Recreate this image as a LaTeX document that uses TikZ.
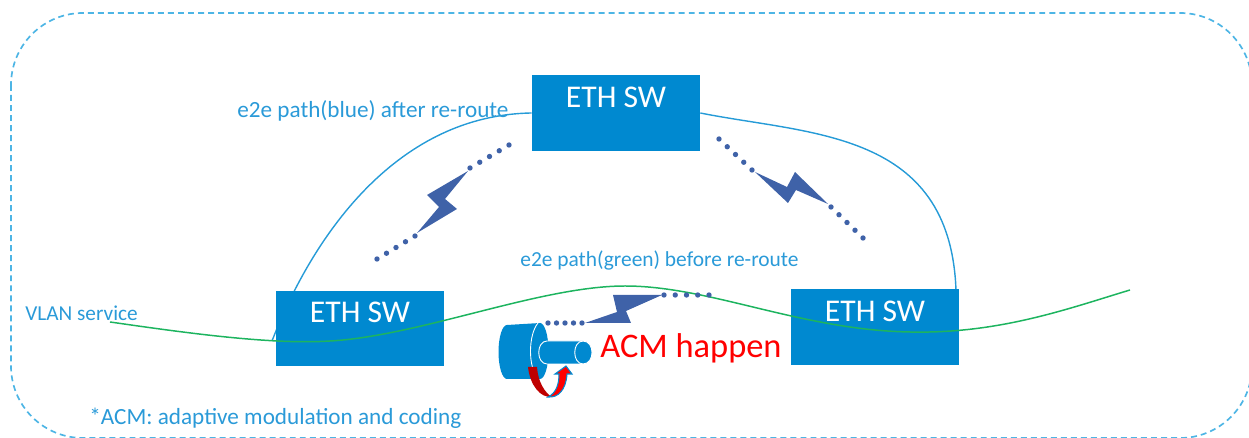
\documentclass[tikz,border=0pt]{standalone}
\usepackage{fontspec}
\setmainfont{Carlito}
\usetikzlibrary{calc,backgrounds}
\definecolor{swblue}{HTML}{0089D0}
\definecolor{txtblue}{HTML}{2A9AD8}
\definecolor{framecol}{HTML}{4DB5E5}
\definecolor{boltblue}{HTML}{3F62A8}
\definecolor{pathgreen}{HTML}{1DB45F}
\newcommand{\swlabel}{\raisebox{3.4pt}[0pt][0pt]{ETH SW}}
\tikzset{
	swbox/.style = {fill=swblue, minimum width=3.36cm, minimum height=1.52cm, text=white, inner sep=0pt, font=\fontsize{18}{20}\selectfont},
	lbl/.style = {text=txtblue, inner sep=0pt, anchor=west},
	bolt/.style = {fill=boltblue, draw=none},
	bluepath/.style = {swblue!85!white, line width=0.8pt},
}
\begin{document}
\begin{tikzpicture}[x=0.02cm, y=-0.02cm]
	\useasboundingbox (0, 0) rectangle (1249, 438);
	\begin{scope}
		\clip (0, 0) rectangle (1249, 438);
		\draw[framecol, line width=0.95pt, dash pattern=on 3.4pt off 2.3pt, rounded corners=1.44cm] (11, 13) rectangle (1252, 438);
	\end{scope}
	\node[swbox] (swtop) at (616, 113) {\swlabel};
	\node[swbox] (swleft) at (360, 328.5) {\swlabel};
	\node[swbox] (swright) at (875, 327) {\swlabel};
	% blue path behind the switches
	\coordinate (bluestart) at (272, 341);
	\coordinate (blueend) at (956, 290);
	\begin{scope}[on background layer]
		\draw[bluepath] (bluestart) .. controls (315, 230) and (400, 115) .. (swtop.west);
		\draw[bluepath] (swtop.east) .. controls (810, 135) and (950, 130) .. (blueend);
	\end{scope}
	% green path on top
	\coordinate (greenstart) at (110, 322);
	\coordinate (greenend) at (1130, 290);
	\draw[pathgreen, line width=0.85pt] (greenstart) .. controls (180, 332) and (270, 345) .. (330, 341) .. controls (420, 336) and (540, 286) .. (625, 286) .. controls (710, 286) and (800, 330) .. (910, 332) .. controls (1000, 334) and (1070, 308) .. (greenend);
	% labels
	\node[lbl, font=\fontsize{13.2}{15}\selectfont] (bluelbl) at (237, 111) {e2e path(blue) after re-route};
	\node[lbl, font=\fontsize{12.2}{14}\selectfont] (greenlbl) at (520, 261) {e2e path(green) before re-route};
	\node[lbl, font=\fontsize{12.1}{14}\selectfont] (vlanlbl) at (25, 313) {VLAN service};
	\node[lbl, font=\fontsize{13.2}{15}\selectfont] (acmnote) at (89, 418) {*ACM: adaptive modulation and coding};
	% dots on the radio links
	\foreach \ax/\ay/\bx/\by in {377/259/415/236, 470/168/509/145, 719/139/752/170, 831/207/863/238, 548/323/582/323, 664/295/709/295}
		\foreach \t in {0, 0.25, 0.5, 0.75, 1}
			\fill[boltblue] ($(\ax, \ay)!\t!(\bx, \by)$) circle[radius=2.7];
	\fill[bolt] (468, 171) -- (445, 199) -- (457, 209) -- (417, 233) -- (439, 207) -- (427, 195) -- cycle;
	\fill[bolt] (755, 172) -- (787, 187) -- (795, 172) -- (828, 204) -- (796, 190) -- (788, 203) -- cycle;
	\fill[bolt] (585, 323) -- (617, 312) -- (613, 295) -- (662, 295) -- (626, 311) -- (631, 323) -- cycle;
	% antenna
	\fill[swblue] (507, 352) ellipse[x radius=8.5, y radius=27];
	\fill[swblue] (507, 325) -- (540, 323) -- (540, 379) -- (507, 379) -- cycle;
	\fill[swblue] (540, 351) ellipse[x radius=8.5, y radius=28];
	\draw[white, line width=0.5pt] (538, 323) .. controls (528, 335) and (528, 368) .. (538, 378);
	\filldraw[fill=swblue, draw=white, line width=0.5pt] (547, 341) -- (583, 341) .. controls (595, 341) and (595, 364) .. (583, 364) -- (547, 364) .. controls (536, 364) and (536, 341) .. (547, 341) -- cycle;
	\draw[white, line width=0.5pt] (583, 341) .. controls (572, 341) and (572, 364) .. (583, 364);
	\fill[red!75!black] (528, 367) -- (537, 367) .. controls (538, 382) and (545, 393) .. (552, 397) .. controls (540, 398) and (530, 385) .. (528, 367) -- cycle;
	\filldraw[fill=red, draw=swblue, line width=0.6pt] (548, 397) .. controls (556, 393) and (559, 385) .. (559, 374) -- (555, 374) -- (566, 366) -- (572, 374) -- (567, 374) .. controls (566, 390) and (558, 398) .. (548, 397) -- cycle;
	\node[text=red, inner sep=0pt, anchor=west, font=\fontsize{19.6}{24}\selectfont] (acmtext) at (600, 348) {ACM happen};
\end{tikzpicture}
\end{document}
